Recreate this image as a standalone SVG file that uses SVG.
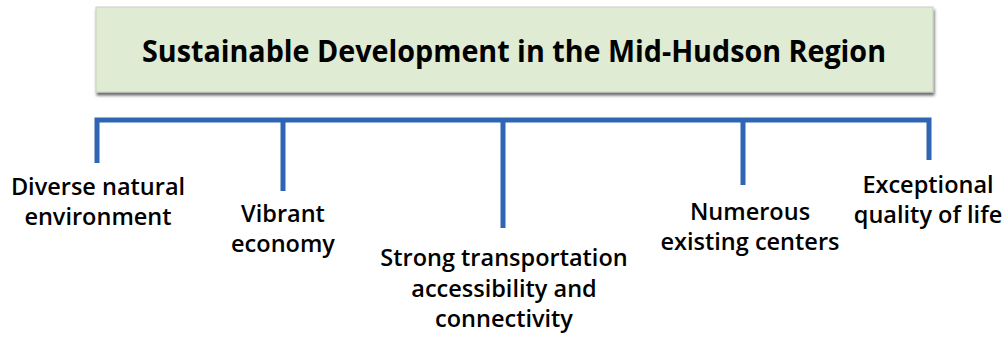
<svg xmlns="http://www.w3.org/2000/svg" width="1005" height="339" viewBox="0 0 1005 339">
<defs>
<filter id="sh" x="-5%" y="-20%" width="110%" height="150%">
<feGaussianBlur in="SourceAlpha" stdDeviation="1.5"/>
<feOffset dx="1" dy="3"/>
<feComponentTransfer><feFuncA type="linear" slope="0.6"/></feComponentTransfer>
<feMerge><feMergeNode/><feMergeNode in="SourceGraphic"/></feMerge>
</filter>
<style>
.lbl{font-family:"Open Sans","Noto Sans",sans-serif;font-weight:600;font-size:23.5px;fill:#000;text-anchor:middle}
.ttl{font-family:"Open Sans","Noto Sans",sans-serif;font-weight:700;font-size:31px;fill:#000;text-anchor:middle}
.ln{stroke:#2f65b2;stroke-width:5;fill:none}
</style>
</defs>
<rect width="1005" height="339" fill="#fff"/>
<g id="title">
<rect x="96" y="7" width="837" height="85" fill="#dfebd2" stroke="#c8cfc0" stroke-width="1" filter="url(#sh)"/>
<text class="ttl" x="514" y="62" textLength="744" lengthAdjust="spacingAndGlyphs">Sustainable Development in the Mid-Hudson Region</text>
</g>
<g id="connectors">
<path class="ln" d="M97,163 V120 H929 V160"/>
<path class="ln" d="M283,120 V191"/>
<path class="ln" d="M503,120 V228"/>
<path class="ln" d="M743,120 V185"/>
</g>
<g id="n1"><text class="lbl" x="98" y="195">Diverse natural</text><text class="lbl" x="98" y="225">environment</text></g>
<g id="n2"><text class="lbl" x="283" y="222">Vibrant</text><text class="lbl" x="283" y="252">economy</text></g>
<g id="n3"><text class="lbl" x="504" y="266">Strong transportation</text><text class="lbl" x="504" y="297">accessibility and</text><text class="lbl" x="504" y="327">connectivity</text></g>
<g id="n4"><text class="lbl" x="750" y="220">Numerous</text><text class="lbl" x="750" y="250">existing centers</text></g>
<g id="n5"><text class="lbl" x="928" y="193">Exceptional</text><text class="lbl" x="928" y="223">quality of life</text></g>
</svg>
